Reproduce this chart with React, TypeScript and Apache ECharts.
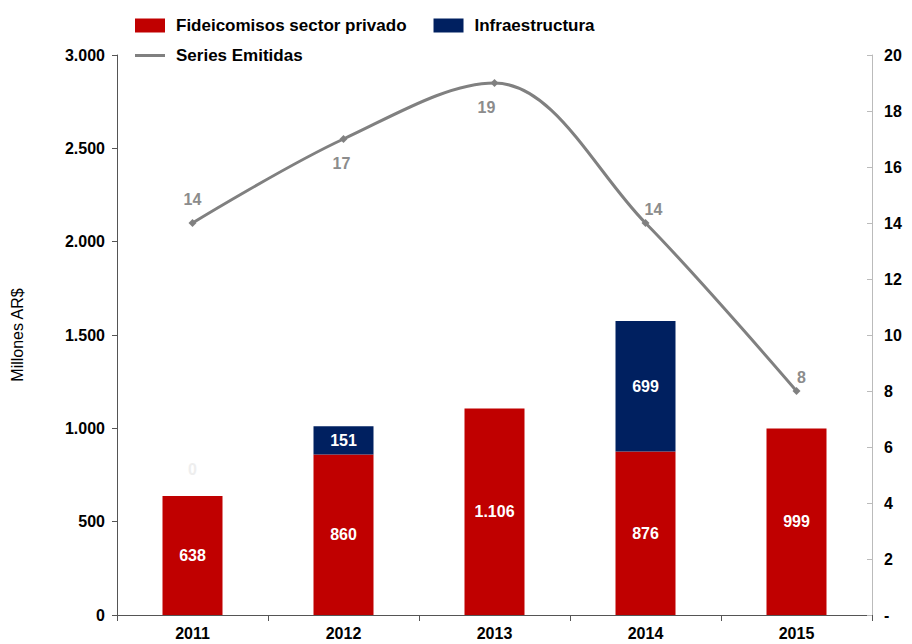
import React, { useEffect, useRef } from "react";
import * as echarts from "echarts";

const years = ["2011", "2012", "2013", "2014", "2015"];
const privado = [638, 860, 1106, 876, 999];
const infra: (number | null)[] = [0, 151, null, 699, null];
const series = [14, 17, 19, 14, 8];
const seriesLabelPos = ["top", "bottom", "bottom", "top", "top"];
const seriesLabelOffset = [[0, 2], [-2, -2], [-8, -2], [8, 12], [5, 12]];

const fmt = (v: number) => String(v).replace(/\B(?=(\d{3})+(?!\d))/g, ".");
const FONT = "Liberation Sans, Arial, sans-serif";

export default function App() {
  const ref = useRef<HTMLDivElement>(null);
  useEffect(() => {
    if (!ref.current) return;
    const chart = echarts.init(ref.current, null, { renderer: "svg" });
    const legendText = { fontFamily: FONT, fontSize: 17, fontWeight: "bold", color: "#000", padding: [0, 0, 0, 6] };
    chart.setOption({
      animation: false,
      textStyle: { fontFamily: FONT },
      grid: { left: 117, right: 40, top: 55, bottom: 29 },
      legend: [
        {
          data: ["Fideicomisos sector privado", "Infraestructura"],
          left: 130,
          top: 12,
          itemWidth: 30,
          itemHeight: 14,
          itemGap: 27,
          icon: "rect",
          textStyle: legendText,
        },
        {
          data: ["Series Emitidas"],
          left: 130,
          top: 42,
          itemWidth: 30,
          itemHeight: 14,
          icon: "path://M0,6 H30 V9 H0 Z",
          textStyle: legendText,
        },
      ],
      xAxis: {
        type: "category",
        data: years,
        axisLine: { lineStyle: { color: "#555", width: 1 } },
        axisTick: { show: true, alignWithLabel: false, length: 6, lineStyle: { color: "#555" } },
        axisLabel: { fontFamily: FONT, fontSize: 16, fontWeight: "bold", color: "#000", margin: 10 },
      },
      yAxis: [
        {
          type: "value",
          min: 0,
          max: 3000,
          interval: 500,
          name: "Millones AR$",
          nameLocation: "middle",
          nameRotate: 90,
          nameGap: 92,
          nameTextStyle: { fontFamily: FONT, fontSize: 16, color: "#000" },
          axisLine: { show: true, lineStyle: { color: "#555" } },
          axisTick: { show: true, length: 5, lineStyle: { color: "#555" } },
          splitLine: { show: false },
          axisLabel: { fontFamily: FONT, fontSize: 16, fontWeight: "bold", color: "#000", margin: 12, formatter: (v: number) => fmt(v) },
        },
        {
          type: "value",
          min: 0,
          max: 20,
          interval: 2,
          position: "right",
          axisLine: { show: true, lineStyle: { color: "#bbb" } },
          axisTick: { show: true, inside: true, length: 5, lineStyle: { color: "#bbb" } },
          splitLine: { show: false },
          axisLabel: { fontFamily: FONT, fontSize: 16, fontWeight: "bold", color: "#000", margin: 12, formatter: (v: number) => (v === 0 ? "-" : String(v)) },
        },
      ],
      series: [
        {
          name: "Fideicomisos sector privado",
          type: "bar",
          stack: "total",
          barWidth: 60,
          data: privado,
          itemStyle: { color: "#C00000" },
          label: { show: true, position: "inside", color: "#fff", fontFamily: FONT, fontSize: 16, fontWeight: "bold", formatter: (p: any) => fmt(p.value) },
        },
        {
          name: "Infraestructura",
          type: "bar",
          stack: "total",
          barWidth: 60,
          data: infra.map((v) =>
            v === 0
              ? { value: v, label: { position: "top", distance: 18, color: "#eeeeee" } }
              : v
          ),
          itemStyle: { color: "#002060" },
          label: { show: true, position: "inside", color: "#fff", fontFamily: FONT, fontSize: 16, fontWeight: "bold", formatter: (p: any) => fmt(p.value) },
        },
        {
          name: "Series Emitidas",
          type: "line",
          yAxisIndex: 1,
          smooth: 0.35,
          data: series.map((v, i) => ({ value: v, label: { position: seriesLabelPos[i], offset: seriesLabelOffset[i] } })),
          lineStyle: { color: "#808080", width: 3 },
          itemStyle: { color: "#808080" },
          symbol: "diamond",
          symbolSize: 8,
          label: { show: true, distance: 14, color: "#8c8c8c", fontFamily: FONT, fontSize: 16, fontWeight: "bold" },
        },
      ],
    });
    return () => chart.dispose();
  }, []);
  return <div ref={ref} style={{ width: 912, height: 644, position: "absolute", left: 0, top: 0 }} />;
}
